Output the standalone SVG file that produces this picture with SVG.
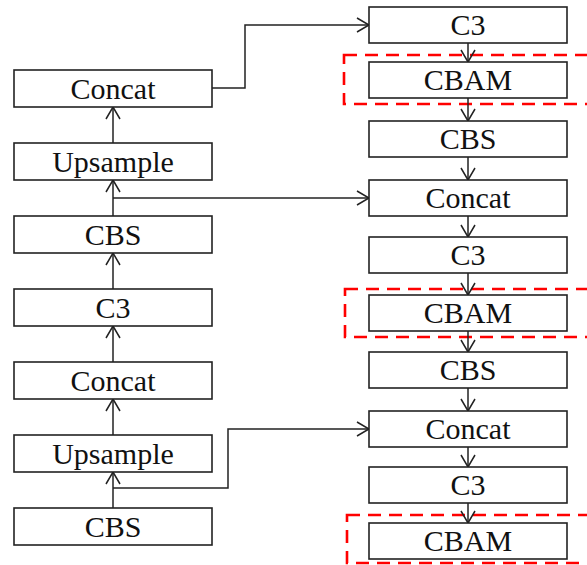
<svg xmlns="http://www.w3.org/2000/svg" width="587" height="565" viewBox="0 0 587 565">
<defs>
<marker id="arr" markerUnits="userSpaceOnUse" markerWidth="16" markerHeight="18" viewBox="-14 -9 16 18" refX="0" refY="0" orient="auto">
<path d="M -12 -7 L 0 0 L -12 7" fill="none" stroke="#222" stroke-width="1.5"/>
</marker>
</defs>
<style>
.box{fill:#fff;stroke:#222;stroke-width:1.6}
.t{font-family:"Liberation Serif","Times New Roman",serif;font-size:30px;fill:#111;text-anchor:middle}
.c{fill:none;stroke:#222;stroke-width:1.5;marker-end:url(#arr)}
.hl{fill:none;stroke:#ff0000;stroke-width:2.6;stroke-dasharray:13 8}
</style>
<rect width="587" height="565" fill="#fff"/>
<g id="highlights">
<rect class="hl" x="344" y="55" width="260" height="49"/>
<rect class="hl" x="345" y="289" width="260" height="48"/>
<rect class="hl" x="347" y="515" width="260" height="48"/>
</g>
<g id="connectors">
<path class="c" d="M113 508 V472"/>
<path class="c" d="M113 435 V399"/>
<path class="c" d="M113 362 V326"/>
<path class="c" d="M113 289 V253"/>
<path class="c" d="M113 216 V180"/>
<path class="c" d="M113 143 V107"/>
<path class="c" d="M212 88 H245 V25 H369"/>
<path class="c" d="M113 198 H369"/>
<path class="c" d="M113 488 H228 V429 H369"/>
<path class="c" d="M468 43 V62"/>
<path class="c" d="M468 98 V121"/>
<path class="c" d="M468 157 V180"/>
<path class="c" d="M468 216 V237"/>
<path class="c" d="M468 273 V295"/>
<path class="c" d="M468 331 V352"/>
<path class="c" d="M468 388 V411"/>
<path class="c" d="M468 447 V467"/>
<path class="c" d="M468 503 V523"/>
</g>
<g id="L1"><rect class="box" x="14" y="70" width="198" height="37"/><text class="t" x="113" y="99">Concat</text></g>
<g id="L2"><rect class="box" x="14" y="143" width="198" height="37"/><text class="t" x="113" y="172">Upsample</text></g>
<g id="L3"><rect class="box" x="14" y="216" width="198" height="37"/><text class="t" x="113" y="245">CBS</text></g>
<g id="L4"><rect class="box" x="14" y="289" width="198" height="37"/><text class="t" x="113" y="318">C3</text></g>
<g id="L5"><rect class="box" x="14" y="362" width="198" height="37"/><text class="t" x="113" y="391">Concat</text></g>
<g id="L6"><rect class="box" x="14" y="435" width="198" height="37"/><text class="t" x="113" y="464">Upsample</text></g>
<g id="L7"><rect class="box" x="14" y="508" width="198" height="37"/><text class="t" x="113" y="537">CBS</text></g>
<g id="R1"><rect class="box" x="369" y="7" width="198" height="36"/><text class="t" x="468" y="35">C3</text></g>
<g id="R2"><rect class="box" x="369" y="62" width="198" height="36"/><text class="t" x="468" y="90">CBAM</text></g>
<g id="R3"><rect class="box" x="369" y="121" width="198" height="36"/><text class="t" x="468" y="149">CBS</text></g>
<g id="R4"><rect class="box" x="369" y="180" width="198" height="36"/><text class="t" x="468" y="208">Concat</text></g>
<g id="R5"><rect class="box" x="369" y="237" width="198" height="36"/><text class="t" x="468" y="265">C3</text></g>
<g id="R6"><rect class="box" x="369" y="295" width="198" height="36"/><text class="t" x="468" y="323">CBAM</text></g>
<g id="R7"><rect class="box" x="369" y="352" width="198" height="36"/><text class="t" x="468" y="380">CBS</text></g>
<g id="R8"><rect class="box" x="369" y="411" width="198" height="36"/><text class="t" x="468" y="439">Concat</text></g>
<g id="R9"><rect class="box" x="369" y="467" width="198" height="36"/><text class="t" x="468" y="495">C3</text></g>
<g id="R10"><rect class="box" x="369" y="523" width="198" height="36"/><text class="t" x="468" y="551">CBAM</text></g>
</svg>
